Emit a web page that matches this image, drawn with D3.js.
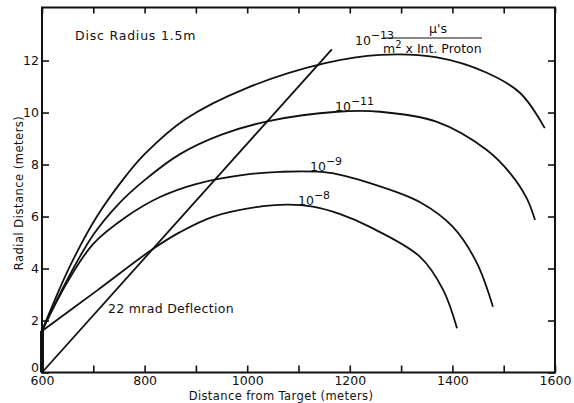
<!DOCTYPE html>
<html>
<head>
<meta charset="utf-8">
<script src="https://cdn.jsdelivr.net/npm/d3@7"></script>
<style>
  html, body { margin: 0; padding: 0; background: #fff; }
  svg { display: block; }
  text { font-family: "DejaVu Sans", "Liberation Sans", sans-serif; fill: #111; }
</style>
</head>
<body>
<svg id="chart" width="574" height="403"></svg>
<script>
// Muon flux contours: distance from target (m) vs radial distance (m)
const dist13 = [600, 654, 707, 765, 800, 880, 1000, 1152, 1259, 1370, 1467, 1532, 1580];
const rad13  = [1.6, 4.07, 6.0, 7.6, 8.4, 9.75, 10.95, 11.9, 12.22, 12.12, 11.53, 10.75, 9.4];

const dist11 = [600, 650, 700, 750, 800, 869, 950, 1044, 1175, 1259, 1370, 1467, 1512, 1545, 1561];
const rad11  = [1.6, 3.6, 5.3, 6.5, 7.4, 8.4, 9.15, 9.68, 10.03, 10.03, 9.64, 8.56, 7.68, 6.7, 5.87];

const dist9 = [600, 650, 700, 765, 830, 900, 1000, 1064, 1161, 1245, 1337, 1401, 1448, 1479];
const rad9  = [1.6, 3.5, 4.95, 6.0, 6.75, 7.25, 7.62, 7.72, 7.68, 7.25, 6.55, 5.6, 4.2, 2.53];

const dist8 = [600, 707, 816, 869, 933, 1031, 1080, 1128, 1180, 1239, 1337, 1382, 1409];
const rad8  = [1.6, 3.15, 4.75, 5.4, 5.99, 6.4, 6.46, 6.38, 6.1, 5.6, 4.45, 3.18, 1.7];

// 22 mrad deflection line
const deflDist = [600, 1165];
const deflRad  = [0, 12.43];

// Disc edge at the start of the decay region
const discDist = [600, 600];
const discRad  = [0, 1.6];

const xTicks = [600, 700, 800, 900, 1000, 1100, 1200, 1300, 1400, 1500, 1600];
const xTickLabels = [600, 800, 1000, 1200, 1400, 1600];
const yTicks = [0, 2, 4, 6, 8, 10, 12];

const svg = d3.select("#chart");
const x = d3.scaleLinear().domain([600, 1600]).range([42, 555]);
const y = d3.scaleLinear().domain([0, 14.04]).range([372.5, 7.5]);

const line = d3.line().x(d => x(d[0])).y(d => y(d[1])).curve(d3.curveCatmullRom.alpha(0.5));
const straight = d3.line().x(d => x(d[0])).y(d => y(d[1]));
const zip = (a, b) => a.map((v, i) => [v, b[i]]);

// Frame
svg.append("rect")
  .attr("x", x(600)).attr("y", y(14.04))
  .attr("width", x(1600) - x(600)).attr("height", y(0) - y(14.04))
  .attr("fill", "none").attr("stroke", "#111").attr("stroke-width", 2);

// Axes with inward ticks
const fmtX = d => xTickLabels.includes(d) ? d : "";
const gx = svg.append("g").attr("transform", `translate(0,${y(0)})`)
  .call(d3.axisBottom(x).tickValues(xTicks).tickSize(-7).tickPadding(4).tickFormat(fmtX));
const gxt = svg.append("g").attr("transform", `translate(0,${y(14.04)})`)
  .call(d3.axisTop(x).tickValues(xTicks).tickSize(-6).tickFormat(""));
const gy = svg.append("g").attr("transform", `translate(${x(600)},0)`)
  .call(d3.axisLeft(y).tickValues(yTicks).tickSize(-7).tickPadding(3));
const gyr = svg.append("g").attr("transform", `translate(${x(1600)},0)`)
  .call(d3.axisRight(y).tickValues(yTicks).tickSize(-7).tickFormat(""));

[gx, gxt, gy, gyr].forEach(g => {
  g.select(".domain").remove();
  g.selectAll(".tick line").attr("stroke", "#111").attr("stroke-width", 1.6);
  g.selectAll("text").attr("font-size", 12.5).attr("fill", "#111")
    .style("font-family", '"DejaVu Sans", sans-serif');
});
// the zero label sits a little above the corner
gy.selectAll(".tick").filter(d => d === 0).select("text").attr("dy", "-0.12em");

// Axis titles
svg.append("text")
  .attr("x", 281).attr("y", 400)
  .attr("text-anchor", "middle").attr("font-size", 11.5).attr("letter-spacing", 0.4)
  .text("Distance from Target (meters)");
svg.append("text")
  .attr("transform", "translate(23,193) rotate(-90)")
  .attr("text-anchor", "middle").attr("font-size", 11.5).attr("letter-spacing", 0.5)
  .text("Radial Distance (meters)");

// Curves
const curves = [zip(dist13, rad13), zip(dist11, rad11), zip(dist9, rad9), zip(dist8, rad8)];
svg.append("g").selectAll("path").data(curves).join("path")
  .attr("d", line).attr("fill", "none").attr("stroke", "#111").attr("stroke-width", 1.8);

svg.append("path").attr("d", straight(zip(deflDist, deflRad)))
  .attr("fill", "none").attr("stroke", "#111").attr("stroke-width", 1.8);
svg.append("path").attr("d", straight(zip(discDist, discRad)))
  .attr("fill", "none").attr("stroke", "#111").attr("stroke-width", 4);

// Annotations
svg.append("text").attr("x", 75).attr("y", 40).attr("font-size", 12.5).attr("letter-spacing", 0.8)
  .text("Disc Radius 1.5m");
svg.append("text").attr("x", 108).attr("y", 313).attr("font-size", 12.5).attr("letter-spacing", 0.3)
  .text("22 mrad Deflection");

function powerLabel(px, py, exp) {
  const t = svg.append("text").attr("x", px).attr("y", py).attr("font-size", 12.5);
  t.append("tspan").text("10");
  t.append("tspan").attr("dy", -6).attr("font-size", 11).text("\u2212" + exp);
}
powerLabel(355, 45, "13");
powerLabel(335, 111, "11");
powerLabel(310, 171, "9");
powerLabel(298, 205, "8");

// Units fraction
svg.append("line").attr("x1", 383).attr("x2", 482).attr("y1", 38).attr("y2", 38)
  .attr("stroke", "#111").attr("stroke-width", 1.2);
svg.append("text").attr("x", 438).attr("y", 33).attr("text-anchor", "middle")
  .attr("font-size", 12.5).text("\u03bc's");
const den = svg.append("text").attr("x", 383).attr("y", 53).attr("font-size", 12.5);
den.append("tspan").text("m");
den.append("tspan").attr("dy", -5).attr("font-size", 10).text("2");
den.append("tspan").attr("dy", 5).text(" x Int. Proton");
</script>
</body>
</html>
